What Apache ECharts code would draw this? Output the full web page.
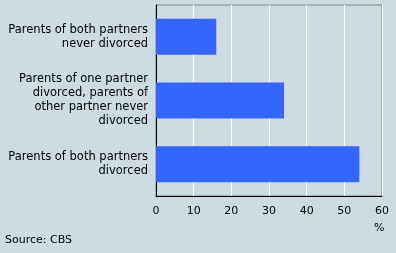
<!DOCTYPE html>
<html><head><meta charset="utf-8">
<script src="https://cdn.jsdelivr.net/npm/echarts@6/dist/echarts.min.js"></script>
<style>html,body{margin:0;padding:0;background:#cddce2;}#c{width:396px;height:253px;}</style>
</head><body><div id="c"></div>
<script>
const categories = [
  "Parents of both partners\nnever divorced",
  "Parents of one partner\ndivorced, parents of\nother partner never\ndivorced",
  "Parents of both partners\ndivorced"
];
const values = [16, 34, 54];
const xTicks = [0, 10, 20, 30, 40, 50, 60];
const unitLabel = "%";
const sourceText = "Source: CBS";

const chart = echarts.init(document.getElementById('c'), null, {renderer: 'canvas'});
const font = "DejaVu Sans";
chart.setOption({
  backgroundColor: '#cddce2',
  animation: false,
  grid: {left: 156, right: 14, top: 5, bottom: 57, show: true, borderColor: '#808080', borderWidth: 1, backgroundColor: 'transparent'},
  xAxis: {
    type: 'value', min: xTicks[0], max: xTicks[xTicks.length - 1], interval: 10,
    axisLine: {show: true, lineStyle: {color: '#000', width: 1}},
    axisTick: {show: false},
    splitLine: {show: true, lineStyle: {color: '#fff', width: 1}},
    axisLabel: {color: '#000', fontFamily: font, fontSize: 11, margin: 10}
  },
  yAxis: {
    type: 'category', data: categories, inverse: true,
    axisLine: {show: true, lineStyle: {color: '#000', width: 1}},
    axisTick: {show: false},
    axisLabel: {color: '#000', fontFamily: font, fontSize: 11.5, lineHeight: 14, margin: 8, align: 'right'}
  },
  series: [{
    type: 'bar', data: values, barWidth: 36,
    itemStyle: {color: '#3366ff'}
  }],
  graphic: [
    {type: 'text', left: 374, top: 223, style: {text: unitLabel, fill: '#000', font: '11px "DejaVu Sans"'}},
    {type: 'text', left: 5, top: 235, style: {text: sourceText, fill: '#000', font: '11px "DejaVu Sans"'}}
  ]
});
</script></body></html>
